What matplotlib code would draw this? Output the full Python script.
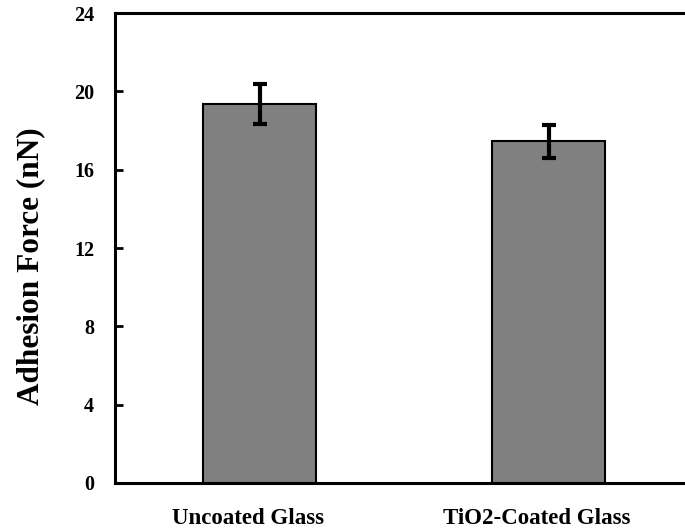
import numpy as np
import matplotlib.pyplot as plt
import matplotlib.transforms as mtransforms

# data
categories = ["Uncoated Glass", "TiO2-Coated Glass"]
force = [19.35, 17.45]
err = [1.02, 0.85]
yticks = [0, 4, 8, 12, 16, 20, 24]

plt.rcParams['font.family'] = ['Liberation Serif', 'DejaVu Serif']
plt.rcParams['font.weight'] = 'bold'

fig = plt.figure(figsize=(6.85, 5.31), dpi=100)
ax = fig.add_axes([0.168, 0.0904, 0.844, 0.885])

x = np.arange(len(categories))
ax.bar(x, force, width=0.39, color='#808080', edgecolor='black', linewidth=1.5,
       yerr=err, error_kw=dict(ecolor='black', elinewidth=3, capsize=5, capthick=3))

ax.set_xlim(-0.5, 1.5)
ax.set_ylim(0, 24)
ax.set_yticks(yticks)
ax.set_yticklabels([str(t) for t in yticks], fontsize=14.5, fontweight='bold')
ax.set_xticks(x)
ax.set_xticklabels(categories, fontsize=16.5, fontweight='bold')
ax.tick_params(axis='x', length=0, pad=18)
ax.tick_params(axis='y', direction='in', length=6, width=2, pad=15)
ax.set_ylabel("Adhesion Force (nN)", fontsize=22.5, fontweight='bold',
              labelpad=21, y=0.462)

# category labels sit a little left of the bar centres in the original
shift = mtransforms.ScaledTranslation(-12 / 100, 0, fig.dpi_scale_trans)
for lab in ax.get_xticklabels():
    lab.set_transform(lab.get_transform() + shift)

for s in ax.spines.values():
    s.set_linewidth(2.2)

fig.savefig("out.png", dpi=100)
